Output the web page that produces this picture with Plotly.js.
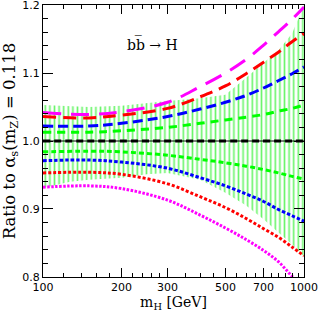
<!DOCTYPE html>
<html>
<head>
<meta charset="utf-8">
<script src="https://cdn.plot.ly/plotly-3.0.1.min.js"></script>
<style>html,body{margin:0;padding:0;background:#fff;}#chart{width:318px;height:312px;}</style>
</head>
<body>
<div id="chart"></div>
<script>
// Higgs masses (GeV)
var mH = [100,150,200,300,400,500,600,700,800,900,1000];
// Ratio curves
var magentaDashed = [1.042,1.039,1.043,1.057,1.080,1.100,1.120,1.141,1.161,1.179,1.197];
var redDashed     = [1.036,1.034,1.038,1.048,1.065,1.081,1.099,1.116,1.131,1.146,1.158];
var blueDashed    = [1.022,1.022,1.026,1.036,1.047,1.057,1.067,1.078,1.089,1.099,1.109];
var greenDashed   = [1.013,1.013,1.015,1.020,1.026,1.031,1.035,1.039,1.044,1.048,1.053];
var reference     = [1,1,1,1,1,1,1,1,1,1,1];
var greenDotted   = [0.984,0.985,0.984,0.979,0.973,0.968,0.963,0.958,0.953,0.948,0.944];
var blueDotted    = [0.971,0.972,0.969,0.960,0.946,0.934,0.922,0.911,0.899,0.890,0.882];
var redDotted     = [0.953,0.954,0.951,0.937,0.918,0.902,0.886,0.871,0.858,0.844,0.831];
var magentaDotted = [0.932,0.934,0.930,0.913,0.891,0.872,0.855,0.839,0.822,0.801,0.784];

// Uncertainty band (hatched)
var bandM      = [100,127,150,200,250,300,400,500,600,700,800,900,950,1000];
var bandTop    = [1.053,1.051,1.050,1.052,1.056,1.059,1.063,1.068,1.093,1.115,1.134,1.158,1.180,1.200];
var bandBottom = [0.931,0.940,0.943,0.946,0.951,0.953,0.943,0.924,0.905,0.885,0.865,0.848,0.839,0.830];

// Axis ticks
var xTickVals = [100,200,300,500,700,1000];
var xTickText = ['100','200','300','500','700','1000'];
var yTickVals = [0.8,0.9,1.0,1.1,1.2];
var yTickText = ['0.8','0.9','1.0','1.1','1.2'];

var polyX = bandM.concat(bandM.slice().reverse());
var polyY = bandTop.concat(bandBottom.slice().reverse());

function curve(y, color, dash, width) {
  return {x: mH, y: y, type: 'scatter', mode: 'lines', hoverinfo: 'skip',
    line: {color: color, dash: dash, width: width, shape: 'spline', smoothing: 1}};
}

var xMinor = [];
for (var m = 120; m < 300; m += 20) { if (m !== 200) xMinor.push(m); }
for (var m2 = 350; m2 < 1000; m2 += 50) { xMinor.push(m2); }

var traces = [
  {x: polyX, y: polyY, type: 'scatter', mode: 'lines', fill: 'toself',
   line: {width: 0, color: 'rgba(0,0,0,0)'}, hoverinfo: 'skip',
   fillcolor: 'rgba(0,0,0,0)',
   fillpattern: {shape: '|', fgcolor: '#6cf56c', bgcolor: 'rgba(0,0,0,0)', size: 4.6, solidity: 0.36, fillmode: 'replace'}},
  curve(reference, '#000000', 'solid', 1),
  curve(reference, '#000000', '7px,4px', 3),
  curve(magentaDashed, '#ff00ff', '18px,10px', 3),
  curve(redDashed, '#ff0000', '13px,7px', 3),
  curve(blueDashed, '#0000ff', '10px,5px', 3),
  curve(greenDashed, '#00ff00', '8px,6px', 3),
  curve(greenDotted, '#00ff00', '5px,3px', 3),
  curve(blueDotted, '#0000ff', '3.5px,2px', 3),
  curve(redDotted, '#ff0000', '3px,2px', 3),
  curve(magentaDotted, '#ff00ff', '2.5px,1.5px', 3)
];

var layout = {
  width: 318, height: 312,
  margin: {l: 43, r: 14, t: 5, b: 35},
  paper_bgcolor: '#ffffff', plot_bgcolor: '#ffffff',
  showlegend: false,
  xaxis: {
    type: 'log', range: [2, 3],
    tickmode: 'array', tickvals: xTickVals, ticktext: xTickText,
    ticks: 'inside', ticklen: 9, tickwidth: 1, tickcolor: '#000',
    showgrid: false, zeroline: false, showline: true, linecolor: '#000', linewidth: 1,
    mirror: 'allticks', ticklabeloverflow: 'allow',
    minor: {tickmode: 'array', tickvals: xMinor, ticks: 'inside', ticklen: 4, tickcolor: '#000', tickwidth: 1, showgrid: false},
    tickfont: {family: 'DejaVu Sans', size: 11, color: '#000'},
    title: {text: 'm<sub>H</sub> [GeV]', font: {family: 'DejaVu Serif', size: 14, color: '#000'}, standoff: 3}
  },
  yaxis: {
    range: [0.7999, 1.2001],
    tickmode: 'array', tickvals: yTickVals, ticktext: yTickText,
    ticks: 'inside', ticklen: 10, tickwidth: 1, tickcolor: '#000',
    showgrid: false, zeroline: false, showline: true, linecolor: '#000', linewidth: 1,
    mirror: 'allticks', ticklabeloverflow: 'allow',
    minor: {dtick: 0.02, tick0: 0.8, ticks: 'inside', ticklen: 5, tickcolor: '#000', tickwidth: 1, showgrid: false},
    tickfont: {family: 'DejaVu Sans', size: 11, color: '#000'},
    title: {text: 'Ratio to α<sub>s</sub>(m<sub>Z</sub>) = 0.118', font: {family: 'DejaVu Serif', size: 16.5, color: '#000'}, standoff: 4}
  },
  annotations: [{
    xref: 'paper', yref: 'paper', x: 0.418, y: 0.897, showarrow: false,
    text: 'bb\u0305 \u2192 H', font: {family: 'DejaVu Serif', size: 14, color: '#000'}
  }]
};

Plotly.newPlot('chart', traces, layout, {staticPlot: true, displayModeBar: false});
</script>
</body>
</html>
